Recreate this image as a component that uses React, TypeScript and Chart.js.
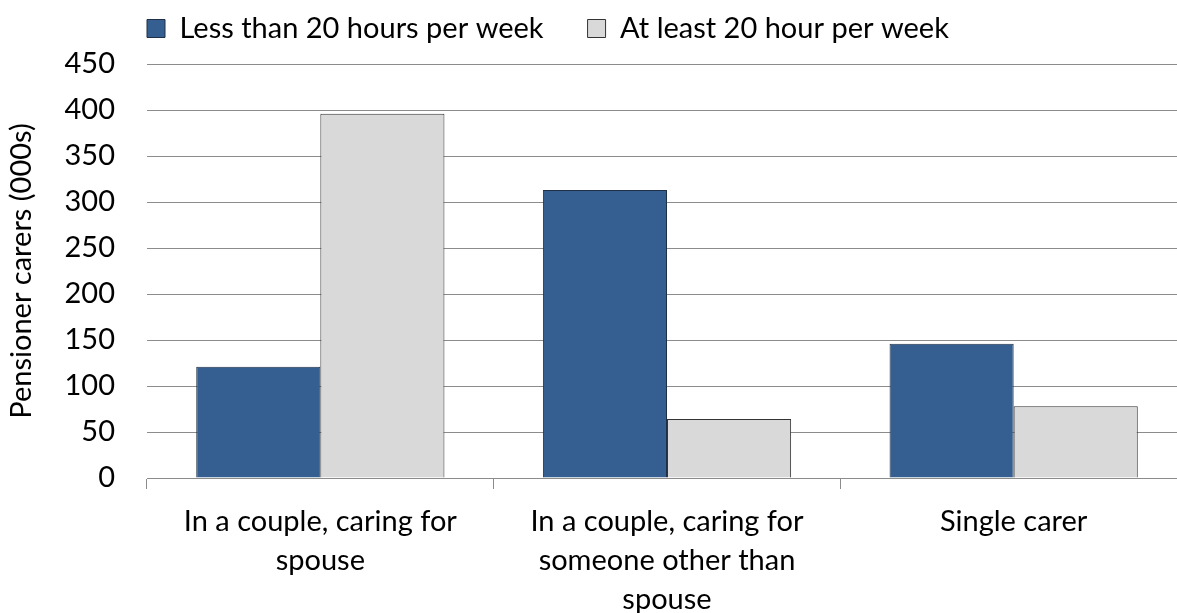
import React, { useEffect, useRef } from "react";
import { Chart, registerables } from "chart.js";

Chart.register(...registerables);

const categories: string[][] = [
  ["In a couple, caring for", "spouse"],
  ["In a couple, caring for", "someone other than", "spouse"],
  ["Single carer"],
];
const seriesNames = ["Less than 20 hours per week", "At least 20 hour per week"];
const lessThan20 = [121, 313, 146];
const atLeast20 = [396, 64, 78];
const yTicks = [0, 50, 100, 150, 200, 250, 300, 350, 400, 450];

const FONT = "Lato, 'Open Sans', sans-serif";
const FS = 29;
const LEGEND_PAD = 44;

const legendTweak = {
  id: "legendTweak",
  afterInit(chart: any) {
    const lg = chart.legend;
    if (lg && !lg.__patched) {
      const orig = lg.fit.bind(lg);
      lg.fit = () => {
        orig();
        lg.height = 58;
      };
      lg.__patched = true;
    }
  },
  afterLayout(chart: any) {
    const lg = chart.legend;
    if (lg) {
      lg.left += 103;
      lg.right += 103;
      lg.top -= 36;
      lg.height += 36;
    }
  },
};

export default function App() {
  const ref = useRef<HTMLCanvasElement | null>(null);
  useEffect(() => {
    document.body.style.margin = "0";
    const ctx = ref.current!.getContext("2d")!;
    const chart = new Chart(ctx, {
      type: "bar",
      data: {
        labels: categories,
        datasets: [
          {
            label: seriesNames[0],
            data: lessThan20,
            backgroundColor: "#365F91",
            borderColor: "#1f2f45",
            borderWidth: 1,
          },
          {
            label: seriesNames[1],
            data: atLeast20,
            backgroundColor: "#D9D9D9",
            borderColor: "#333333",
            borderWidth: 1,
          },
        ],
      },
      plugins: [legendTweak],
      options: {
        animation: false,
        responsive: false,
        maintainAspectRatio: false,
        datasets: { bar: { categoryPercentage: 0.716, barPercentage: 1 } },
        layout: { padding: { top: 6, right: 3, left: 0, bottom: 0 } },
        plugins: {
          legend: {
            position: "top",
            align: "start",
            labels: {
              font: { family: FONT, size: FS },
              color: "#000",
              boxWidth: 18,
              boxHeight: 18,
              padding: LEGEND_PAD,
            },
          },
          tooltip: { enabled: false },
        },
        scales: {
          x: {
            offset: true,
            afterFit: (scale: any) => {
              scale.height = 135;
            },
            grid: {
              offset: true,
              drawOnChartArea: false,
              drawTicks: true,
              tickLength: 11,
              color: "#8c8c8c",
            },
            border: { display: true, color: "#8c8c8c" },
            ticks: {
              font: { family: FONT, size: FS, lineHeight: 1.345 },
              color: "#000",
              maxRotation: 0,
              autoSkip: false,
              padding: 13,
            },
          },
          y: {
            min: 0,
            max: 450,
            afterBuildTicks: (axis: any) => {
              axis.ticks = yTicks.map((v) => ({ value: v }));
            },
            afterFit: (scale: any) => {
              scale.width = 147;
            },
            grid: { color: "#8c8c8c", drawTicks: false },
            border: { display: false },
            ticks: {
              font: { family: FONT, size: FS },
              color: "#000",
              padding: 32,
            },
            title: {
              display: true,
              text: "Pensioner carers (000s)",
              font: { family: FONT, size: FS },
              color: "#000",
              padding: { top: 4, bottom: 2 },
            },
          },
        },
      },
    });
    return () => chart.destroy();
  }, []);
  return (
    <div style={{ position: "fixed", left: 0, top: 0, width: 1177, height: 613, overflow: "hidden", background: "#fff" }}>
      <canvas ref={ref} width={1190} height={613} style={{ width: 1190, height: 613 }} />
    </div>
  );
}
